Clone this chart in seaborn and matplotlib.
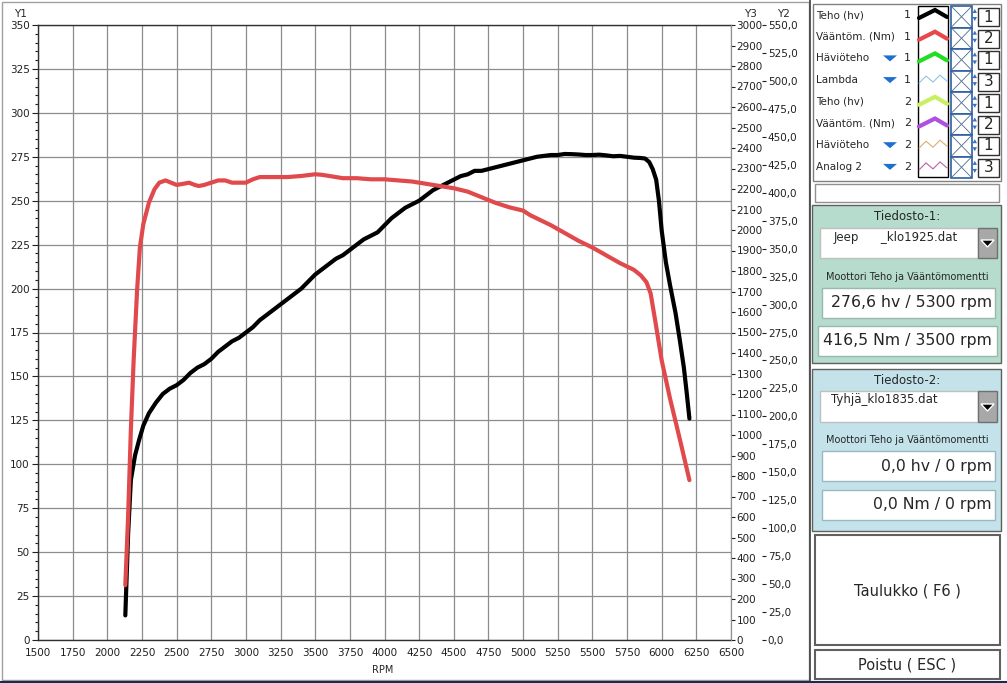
import seaborn as sns
import pandas as pd
import matplotlib.pyplot as plt
from matplotlib.ticker import MultipleLocator, FuncFormatter
from matplotlib.patches import Rectangle, Polygon

# power curve (hv, left axis Y1)
power_rpm = [2130, 2150, 2170, 2200, 2230, 2260, 2300, 2350, 2400, 2450, 2500, 2550, 2600,
             2650, 2700, 2750, 2800, 2850, 2900, 2950, 3000, 3050, 3100, 3150, 3200, 3250,
             3300, 3350, 3400, 3450, 3500, 3550, 3600, 3650, 3700, 3750, 3800, 3850, 3900,
             3950, 4000, 4050, 4100, 4150, 4200, 4250, 4300, 4350, 4400, 4450, 4500, 4550,
             4600, 4650, 4700, 4750, 4800, 4850, 4900, 4950, 5000, 5050, 5100, 5150, 5200,
             5250, 5300, 5350, 5400, 5450, 5500, 5550, 5600, 5650, 5700, 5750, 5800, 5850,
             5880, 5910, 5935, 5960, 5980, 6000, 6030, 6060, 6100, 6130, 6160, 6180, 6200]
power_hv = [14, 60, 91, 105, 114, 122, 129, 135, 140, 143, 145, 148, 152,
            155, 157, 160, 164, 167, 170, 172, 175, 178, 182, 185, 188, 191,
            194, 197, 200, 204, 208, 211, 214, 217, 219, 222, 225, 228, 230,
            232, 236, 240, 243, 246, 248, 250, 253, 256, 258, 260, 262, 264,
            265, 267, 267, 268, 269, 270, 271, 272, 273, 274, 275, 275.5, 276,
            276, 276.6, 276.5, 276.3, 276, 276, 276.2, 275.8, 275.3, 275.5, 275, 274.5, 274.3,
            274, 272, 268, 262, 250, 233, 215, 202, 186, 171, 155, 141, 126]

# torque curve (Nm, axis Y2)
torque_rpm = [2130, 2150, 2170, 2190, 2215, 2235, 2260, 2300, 2340, 2375, 2420, 2460, 2500,
              2550, 2590, 2630, 2660, 2700, 2750, 2800, 2850, 2900, 2950, 3000, 3050, 3100,
              3200, 3300, 3400, 3500, 3550, 3600, 3700, 3800, 3900, 4000, 4100, 4200, 4300,
              4400, 4500, 4600, 4700, 4800, 4900, 5000, 5050, 5100, 5200, 5300, 5400, 5500,
              5600, 5700, 5800, 5850, 5890, 5920, 5950, 6000, 6060, 6130, 6200]
torque_nm = [49, 110, 188, 250, 313, 351, 372, 391, 403, 409, 411, 409, 407,
             408, 409, 407, 406, 407, 409, 411, 411, 409, 409, 409, 412, 414,
             414, 414, 415, 416.5, 416, 415, 413, 413, 412, 412, 411, 410, 408,
             406, 404, 401, 396, 391, 387, 384, 380, 377, 371, 364, 357, 351,
             344, 337, 331, 326, 320, 310, 288, 250, 216, 180, 143]

legend_names = ["Teho (hv)", "Vääntöm. (Nm)", "Häviöteho", "Lambda",
                "Teho (hv)", "Vääntöm. (Nm)", "Häviöteho", "Analog 2"]
legend_file = ["1", "1", "1", "1", "2", "2", "2", "2"]
legend_axis = ["1", "2", "1", "3", "1", "2", "1", "3"]
legend_arrow = [False, False, True, True, False, False, True, True]
legend_colors = ["black", "#e8484a", "#22dd22", "#8fc4e0", "#c8f060", "#b050e0", "#d8b070", "#c060a0"]
legend_thick = [True, True, True, False, True, True, False, False]

file1_name = "Jeep      _klo1925.dat"
file1_power = "276,6 hv / 5300 rpm"
file1_torque = "416,5 Nm / 3500 rpm"
file2_name = "Tyhjä_klo1835.dat"
file2_power = "0,0 hv / 0 rpm"
file2_torque = "0,0 Nm / 0 rpm"

df_power = pd.DataFrame({"RPM": power_rpm, "hv": power_hv})
df_torque = pd.DataFrame({"RPM": torque_rpm, "Nm": torque_nm})

sns.set_style("white")
plt.rcParams['font.family'] = ['DejaVu Sans']

W, H = 1007, 683
fig = plt.figure(figsize=(W / 100, H / 100), dpi=100)
fig.patch.set_facecolor("white")

# pixel-space overlay for the window frame and side panel
bg = fig.add_axes([0, 0, 1, 1], zorder=-1)
bg.set_xlim(0, W)
bg.set_ylim(H, 0)
bg.set_axis_off()


def box(x0, y0, x1, y1, fc="white", ec="#808080", lw=1.0):
    bg.add_patch(Rectangle((x0, y0), x1 - x0, y1 - y0, facecolor=fc, edgecolor=ec, linewidth=lw))


# window frame
box(2, 2, 809, 680, fc="white", ec="#a0a0a0")
bg.plot([0, W], [681.5, 681.5], color="#1a2a50", lw=1.5)
bg.plot([810, 810], [0, 681], color="#404040", lw=1.2)

# legend block
box(813, 4, 1001, 181, fc="white", ec="#808080")
box(918, 6, 948, 177, fc="white", ec="black", lw=1.0)
for i, name in enumerate(legend_names):
    yc = 15 + i * 21.7
    bg.text(816, yc, name, fontsize=7.5, va="center", ha="left")
    bg.text(911, yc, legend_file[i], fontsize=8, va="center", ha="right")
    if legend_arrow[i]:
        bg.add_patch(Polygon([(883, yc - 3), (897, yc - 3), (890, yc + 3)], closed=True,
                             facecolor="#1e6fd0", edgecolor="none"))
    c = legend_colors[i]
    if legend_thick[i]:
        bg.plot([919, 935, 947], [yc + 3, yc - 5, yc + 2], color=c, lw=3, solid_joinstyle="miter")
    else:
        bg.plot([919, 926, 933, 940, 947], [yc + 3, yc - 4, yc + 2, yc - 5, yc + 1], color=c, lw=0.8)
    # X cell
    cy0 = 6 + i * 21.5
    box(951, cy0, 972, cy0 + 21.5, fc="white", ec="#2f5fa0", lw=1.2)
    bg.plot([952, 971], [cy0 + 1, cy0 + 20.5], color="#4a6a90", lw=0.6)
    bg.plot([952, 971], [cy0 + 20.5, cy0 + 1], color="#4a6a90", lw=0.6)
    # spinner arrows
    bg.add_patch(Polygon([(972.5, yc - 2), (977, yc - 2), (974.8, yc - 6)], closed=True,
                         facecolor="#3a70c0", edgecolor="none"))
    bg.add_patch(Polygon([(972.5, yc + 2), (977, yc + 2), (974.8, yc + 6)], closed=True,
                         facecolor="#3a70c0", edgecolor="none"))
    box(978, cy0 + 2, 999, cy0 + 20, fc="white", ec="#303030", lw=1.0)
    bg.text(988.5, cy0 + 11, legend_axis[i], fontsize=11, va="center", ha="center")

box(815, 184, 999, 202, fc="white", ec="#909090")

# Tiedosto-1 panel
box(812, 205, 1001, 363, fc="#b5dccd", ec="#606060")
bg.text(907, 216, "Tiedosto-1:", fontsize=8.5, ha="center", va="center")
box(820, 228, 978, 258, fc="white", ec="#c0c0c0")
box(978, 228, 997, 258, fc="#a8a8a8", ec="#707070")
bg.add_patch(Polygon([(981, 240), (994, 240), (987.5, 247)], closed=True, facecolor="black"))
bg.text(834, 237, file1_name, fontsize=8.5, ha="left", va="center")
bg.text(907, 277, "Moottori Teho ja Vääntömomentti", fontsize=7, ha="center", va="center")
box(822, 288, 995, 318, fc="white", ec="#9ab8b0")
bg.text(912, 302, file1_power, fontsize=11.3, ha="center", va="center")
box(818, 326, 997, 356, fc="white", ec="#9ab8b0")
bg.text(907, 341, file1_torque, fontsize=11.3, ha="center", va="center")

# Tiedosto-2 panel
box(812, 369, 1001, 531, fc="#c3e2ea", ec="#606060")
bg.text(907, 380, "Tiedosto-2:", fontsize=8.5, ha="center", va="center")
box(820, 391, 978, 422, fc="white", ec="#c0c0c0")
box(978, 391, 997, 422, fc="#a8a8a8", ec="#707070")
bg.add_patch(Polygon([(981, 404), (994, 404), (987.5, 411)], closed=True, facecolor="black"))
bg.text(884, 400, file2_name, fontsize=8.5, ha="center", va="center")
bg.text(907, 440, "Moottori Teho ja Vääntömomentti", fontsize=7, ha="center", va="center")
box(822, 451, 995, 481, fc="white", ec="#9ab8c0")
bg.text(992, 466, file2_power, fontsize=11.3, ha="right", va="center")
box(822, 490, 995, 520, fc="white", ec="#9ab8c0")
bg.text(992, 505, file2_torque, fontsize=11.3, ha="right", va="center")

# buttons
box(815, 535, 1000, 645, fc="white", ec="#606060", lw=1.5)
bg.text(907, 591, "Taulukko ( F6 )", fontsize=10.5, ha="center", va="center")
box(815, 650, 1000, 679, fc="white", ec="#606060", lw=1.5)
bg.text(907, 665, "Poistu ( ESC )", fontsize=10.5, ha="center", va="center")

# axis titles
bg.text(20, 14, "Y1", fontsize=7.5, ha="center", va="center")
bg.text(750, 14, "Y3", fontsize=7.5, ha="center", va="center")
bg.text(783, 14, "Y2", fontsize=7.5, ha="center", va="center")

# main chart
L, R, T, B = 38, 731, 25, 640
ax = fig.add_axes([L / W, 1 - B / H, (R - L) / W, (B - T) / H])
ax.set_facecolor("white")
ax.set_xlim(1500, 6500)
ax.set_ylim(0, 350)
ax.xaxis.set_major_locator(MultipleLocator(250))
ax.yaxis.set_major_locator(MultipleLocator(25))
ax.yaxis.set_minor_locator(MultipleLocator(5))
ax.grid(True, which="major", color="#8c8c8c", lw=0.9)
ax.set_axisbelow(True)
ax.tick_params(axis="both", which="major", direction="out", length=4, width=0.8,
               labelsize=7.5, pad=2, colors="#202020")
ax.tick_params(axis="y", which="minor", direction="out", length=2.5, width=0.8, colors="#202020")
for s in ["left", "top", "bottom"]:
    ax.spines[s].set_color("#303030")
    ax.spines[s].set_linewidth(1.0)
ax.spines["right"].set_color("#909090")

sns.lineplot(data=df_power, x="RPM", y="hv", ax=ax, color="black", lw=3.0, sort=False)
ax.set_xlabel("")
ax.set_ylabel("")

# Y3 scale (right spine)
ax3 = ax.twinx()
ax3.set_ylim(0, 3000)
ax3.yaxis.set_major_locator(MultipleLocator(100))
ax3.tick_params(axis="y", direction="out", length=3, width=0.8, labelsize=7.5, pad=1, colors="#202020")
for s in ["left", "top", "bottom"]:
    ax3.spines[s].set_visible(False)
ax3.spines["right"].set_color("#909090")
ax3.set_ylabel("")

# Y2 scale (torque)
ax2 = ax.twinx()
ax2.set_ylim(0, 550)
ax2.yaxis.set_major_locator(MultipleLocator(25))
ax2.yaxis.set_major_formatter(FuncFormatter(lambda v, p: f"{v:.1f}".replace(".", ",")))
ax2.spines["right"].set_position(("outward", 22.5))
for s in ax2.spines.values():
    s.set_visible(False)
ax2.tick_params(axis="y", direction="out", length=3, width=0.8, labelsize=7.5, pad=1, colors="#202020")
sns.lineplot(data=df_torque, x="RPM", y="Nm", ax=ax2, color="#e04a4c", lw=3.0, sort=False)
ax2.set_ylabel("")
ax2.set_xlabel("")

bg.text(383, 670, "RPM", fontsize=7, ha="center", va="center")

fig.savefig("out.png", dpi=100, facecolor=fig.get_facecolor())
